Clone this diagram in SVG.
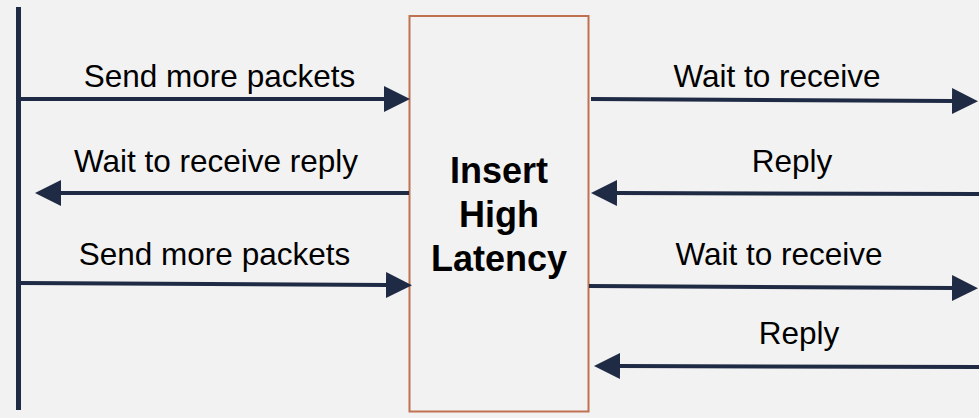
<svg xmlns="http://www.w3.org/2000/svg" width="979" height="418" viewBox="0 0 979 418">
  <style>
    .lbl { font-family: "Liberation Sans", Arial, sans-serif; font-size: 31.5px; fill: #000; text-anchor: middle; }
    .title { font-family: "Liberation Sans", Arial, sans-serif; font-size: 36px; font-weight: bold; fill: #000; text-anchor: middle; }
    .conn { stroke: #1f2a44; stroke-width: 4; fill: none; marker-end: url(#arrow); }
  </style>
  <defs>
    <marker id="arrow" viewBox="0 -13 26 26" refX="1" refY="0" markerWidth="26" markerHeight="26" markerUnits="userSpaceOnUse" orient="auto">
      <path d="M0,-13 L26,0 L0,13 Z" fill="#1f2a44"/>
    </marker>
  </defs>
  <rect x="0" y="0" width="979" height="418" fill="#f2f2f2"/>

  <g id="sender">
    <line x1="18.5" y1="7" x2="18.5" y2="410" stroke="#1f2a44" stroke-width="5"/>
  </g>

  <g id="latency-box">
    <rect x="409.5" y="16" width="179" height="395.5" fill="#f2f2f2" stroke="#c0714f" stroke-width="2"/>
    <text class="title" x="499" y="183">Insert</text>
    <text class="title" x="499" y="227">High</text>
    <text class="title" x="499" y="271">Latency</text>
  </g>

  <g id="connectors">
    <line class="conn" x1="20" y1="99" x2="385" y2="99"/>
    <line class="conn" x1="409" y1="193" x2="60" y2="193"/>
    <line class="conn" x1="20" y1="283" x2="387" y2="285"/>
    <line class="conn" x1="591" y1="99" x2="953" y2="101"/>
    <line class="conn" x1="979" y1="194" x2="616" y2="193"/>
    <line class="conn" x1="589" y1="286" x2="953" y2="288"/>
    <line class="conn" x1="979" y1="367" x2="619" y2="366"/>
  </g>

  <g id="labels">
    <text class="lbl" x="219.5" y="87">Send more packets</text>
    <text class="lbl" x="216" y="172">Wait to receive reply</text>
    <text class="lbl" x="214.5" y="265">Send more packets</text>
    <text class="lbl" x="777" y="87">Wait to receive</text>
    <text class="lbl" x="792" y="172">Reply</text>
    <text class="lbl" x="779" y="265">Wait to receive</text>
    <text class="lbl" x="799" y="344">Reply</text>
  </g>
</svg>
